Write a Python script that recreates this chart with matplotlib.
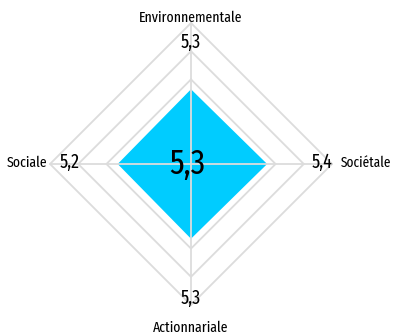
import matplotlib
matplotlib.use("Agg")
import matplotlib.pyplot as plt
import numpy as np

plt.rcParams["font.family"] = ["Fira Sans Extra Condensed", "DejaVu Sans"]

# ── Données ─────────────────────────────────────────────
axes_noms = ["Environnementale", "Sociétale", "Actionnariale", "Sociale"]
valeurs = [5.3, 5.4, 5.3, 5.2]
valeurs_txt = ["5,3", "5,4", "5,3", "5,2"]
score_global = "5,3"
niveaux = [2, 4, 6, 8, 10]
val_max = 10

# angles : haut, droite, bas, gauche
angles = np.array([90, 0, -90, 180]) * np.pi / 180

fig = plt.figure(figsize=(3.93, 3.36), dpi=100)
ax = fig.add_axes([0, 0, 1, 1])
ech = 14.1  # px par unité
cx, cy = 191, 164
ax.set_xlim(-cx / ech, (393 - cx) / ech)
ax.set_ylim(-(336 - cy) / ech, cy / ech)
ax.axis("off")

grille = "#dcdcdc"
# grille en losanges
for n in niveaux:
    xs = list(n * np.cos(angles)) + [n * np.cos(angles[0])]
    ys = list(n * np.sin(angles)) + [n * np.sin(angles[0])]
    ax.plot(xs, ys, color=grille, lw=1.3, zorder=1)

# zone de données
vx = np.array(valeurs) * np.cos(angles)
vy = np.array(valeurs) * np.sin(angles)
ax.fill(vx, vy, color="#00ccff", lw=0, zorder=2)

# rayons
for a in angles:
    ax.plot([0, val_max * np.cos(a)], [0, val_max * np.sin(a)],
            color=grille, lw=1.3, zorder=3)

# libellés
f_nom, f_val = 10.8, 14
ax.text(0, 10.35, axes_noms[0], ha="center", va="center", fontsize=f_nom)
ax.text(0, 8.65, valeurs_txt[0], ha="center", va="center", fontsize=f_val)

ax.text(9.3, 0.1, valeurs_txt[1], ha="center", va="center", fontsize=f_val)
ax.text(10.6, 0.1, axes_noms[1], ha="left", va="center", fontsize=10.4)

ax.text(0, -9.5, valeurs_txt[2], ha="center", va="center", fontsize=f_val)
ax.text(0, -11.6, axes_noms[2], ha="center", va="center", fontsize=f_nom)

ax.text(-8.6, 0.1, valeurs_txt[3], ha="center", va="center", fontsize=f_val)
ax.text(-10.2, 0.1, axes_noms[3], ha="right", va="center", fontsize=f_nom)

ax.text(-0.25, 0.0, score_global, ha="center", va="center", fontsize=25,
        zorder=4)

fig.savefig("out.png", dpi=100)
